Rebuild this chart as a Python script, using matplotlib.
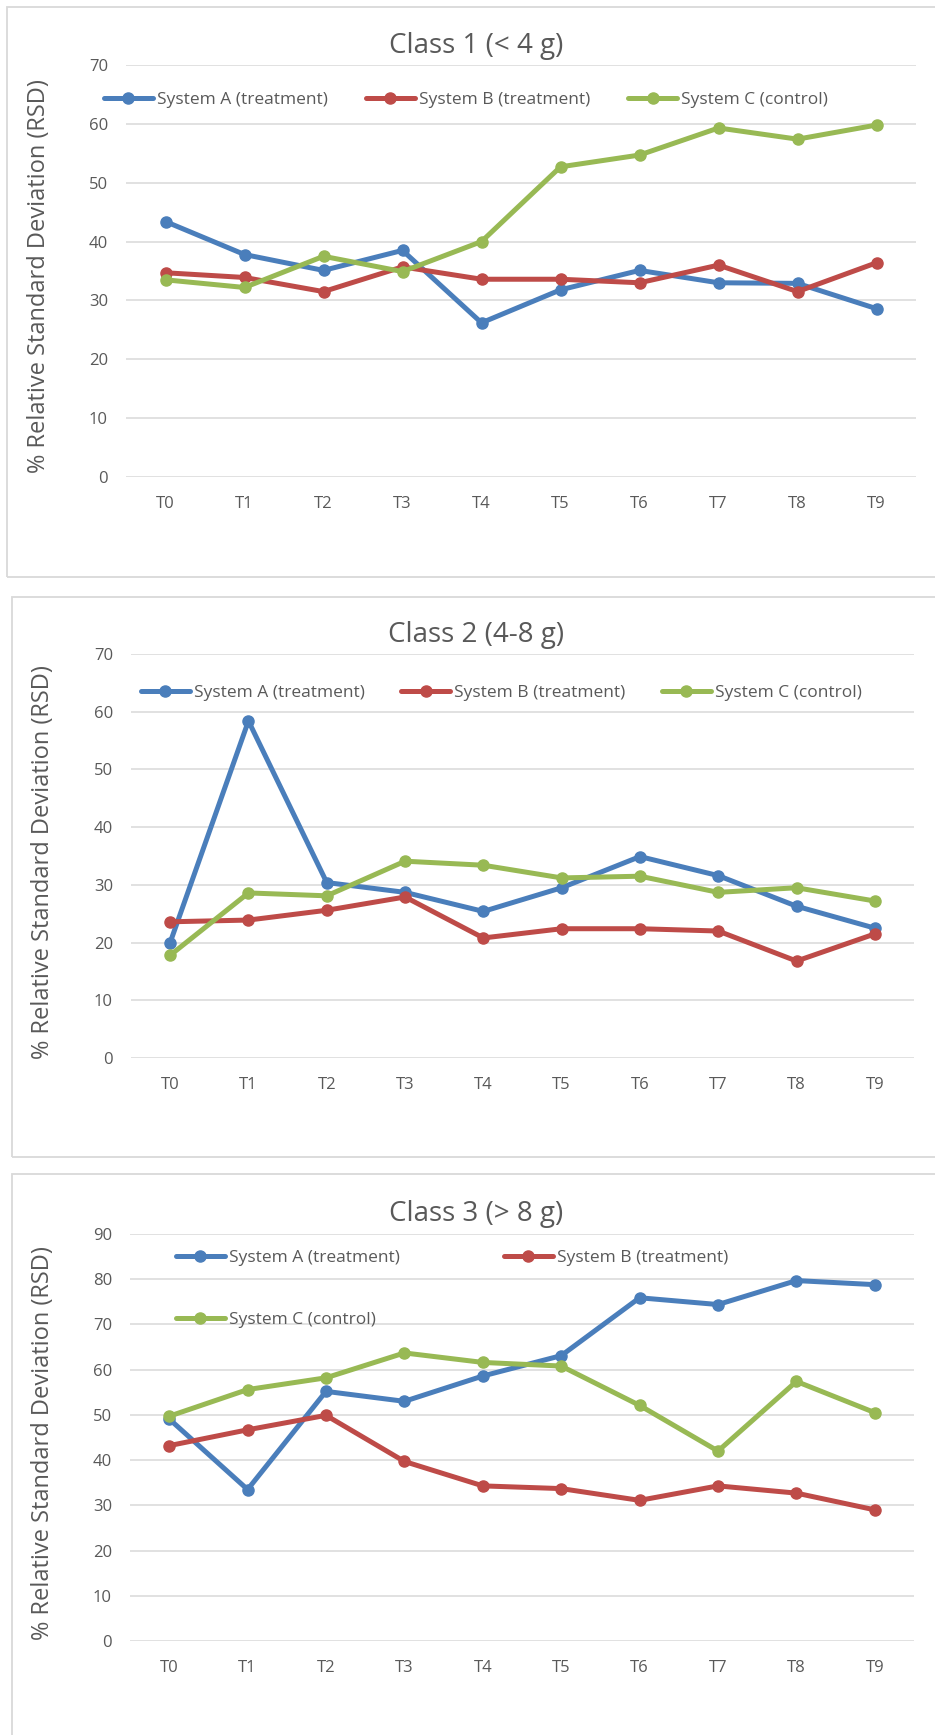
import matplotlib
matplotlib.use("Agg")
import matplotlib.pyplot as plt
from matplotlib.patches import Rectangle

# time points
times = ["T0", "T1", "T2", "T3", "T4", "T5", "T6", "T7", "T8", "T9"]

# series names
series_names = ["System A (treatment)", "System B (treatment)", "System C (control)"]

# class 1 (< 4 g) RSD values
class1_a = [43.4, 37.8, 35.1, 38.5, 26.2, 31.8, 35.1, 33.0, 32.9, 28.6]
class1_b = [34.7, 33.9, 31.5, 35.7, 33.6, 33.6, 33.0, 36.0, 31.5, 36.4]
class1_c = [33.5, 32.2, 37.5, 34.9, 40.0, 52.7, 54.7, 59.3, 57.4, 59.8]

# class 2 (4-8 g) RSD values
class2_a = [20.0, 58.4, 30.4, 28.7, 25.4, 29.5, 34.9, 31.6, 26.3, 22.5]
class2_b = [23.6, 23.9, 25.6, 27.9, 20.8, 22.4, 22.4, 22.0, 16.8, 21.5]
class2_c = [17.8, 28.6, 28.1, 34.1, 33.4, 31.2, 31.5, 28.7, 29.5, 27.2]

# class 3 (> 8 g) RSD values
class3_a = [49.1, 33.5, 55.2, 53.0, 58.6, 63.1, 75.9, 74.4, 79.7, 78.8]
class3_b = [43.2, 46.7, 49.9, 39.7, 34.3, 33.7, 31.1, 34.3, 32.7, 29.0]
class3_c = [49.7, 55.6, 58.2, 63.7, 61.6, 60.8, 52.1, 42.0, 57.4, 50.5]

titles = ["Class 1 (< 4 g)", "Class 2 (4-8 g)", "Class 3 (> 8 g)"]
y_maxes = [70, 70, 90]

colors = ["#4A7EBB", "#BE4B48", "#98B954"]
text_color = "#595959"
grid_color = "#D9D9D9"
font = "Open Sans"

W, H = 935, 1735
fig = plt.figure(figsize=(W / 100, H / 100), dpi=100)


def fx(px):
  return px / W


def fy(py):
  return 1 - py / H


def panel(ax_box, frame_box, data, title, y_max, title_y, ylabel_pos, legend_cfg):
  (x0, top, x1, bottom) = ax_box

  # light grey border around each chart
  (bx0, btop, bx1, bbot) = frame_box
  fig.patches.append(Rectangle(
    (fx(bx0), fy(bbot)), fx(bx1 - bx0), (bbot - btop) / H,
    transform=fig.transFigure, fill=False, edgecolor=grid_color, linewidth=1.3,
  ))

  ax = fig.add_axes([fx(x0), fy(bottom), fx(x1 - x0), (bottom - top) / H])
  x = list(range(len(times)))
  lines = []
  for (i, (vals, color)) in enumerate(zip(data, colors)):
    (ln,) = ax.plot(
      x, vals, color=color, linewidth=3.6, marker="o", markersize=8,
      markerfacecolor=color, markeredgecolor=color, zorder=3 + i,
      solid_capstyle="round", solid_joinstyle="round",
    )
    lines.append(ln)

  ax.set_xlim(-0.5, len(times) - 0.5)
  ax.set_ylim(0, y_max)
  ax.set_yticks(range(0, y_max + 1, 10))
  ax.set_xticks(x)
  ax.set_xticklabels(times)
  for s in ax.spines.values():
    s.set_visible(False)
  ax.grid(axis="y", color=grid_color, linewidth=1.1)
  ax.set_axisbelow(True)
  ax.tick_params(axis="y", length=0, pad=13, labelsize=12, labelcolor=text_color)
  ax.tick_params(axis="x", length=0, pad=14, labelsize=12, labelcolor=text_color)
  for lbl in ax.get_xticklabels() + ax.get_yticklabels():
    lbl.set_fontfamily(font)

  fig.text(fx(476), fy(title_y), title, ha="center", va="center",
           fontsize=20, color=text_color, family=font)
  fig.text(fx(ylabel_pos[0]), fy(ylabel_pos[1]), "% Relative Standard Deviation (RSD)",
           rotation=90, ha="center", va="center", fontsize=17,
           color=text_color, family=font)

  (lx, ly, ncol, order, colsp, labsp) = legend_cfg
  fig.legend(
    [lines[i] for i in order], [series_names[i] for i in order],
    loc="center left", bbox_to_anchor=(fx(lx), fy(ly)), ncol=ncol,
    frameon=False, handlelength=2.8, handletextpad=0.25,
    columnspacing=colsp, labelspacing=labsp, borderpad=0, borderaxespad=0,
    prop={"family": font, "size": 12.5}, labelcolor=text_color,
  )


panel((126, 65, 916, 477), (7, 7, 960, 577),
      [class1_a, class1_b, class1_c], titles[0], y_maxes[0], 46, (39, 276),
      (104, 100, 3, [0, 1, 2], 2.2, 0.5))

panel((131, 654, 914, 1058), (12, 597, 960, 1157),
      [class2_a, class2_b, class2_c], titles[1], y_maxes[1], 635, (43, 862),
      (141, 693, 3, [0, 1, 2], 2.1, 0.5))

panel((130, 1234, 914, 1641), (12, 1174, 960, 1760),
      [class3_a, class3_b, class3_c], titles[2], y_maxes[2], 1214, (43, 1443),
      (176, 1289, 2, [0, 2, 1], 6.0, 2.6))

plt.savefig("out.png", dpi=100)
